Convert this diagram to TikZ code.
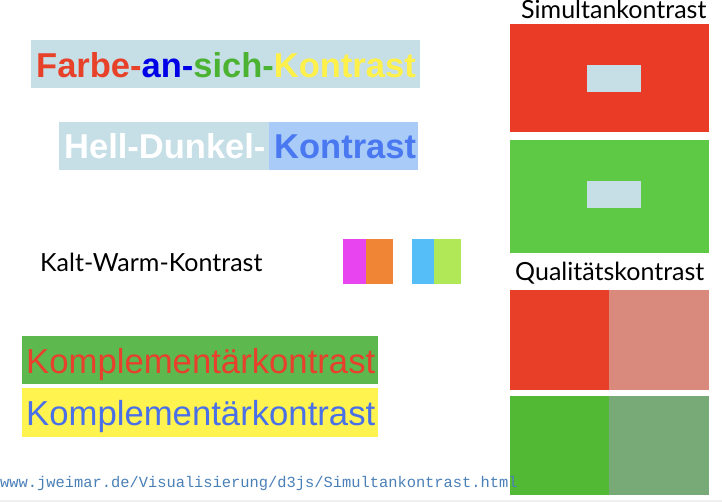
\documentclass[tikz,border=0pt]{standalone}
\usepackage{fontspec}
\setmainfont{Liberation Sans}
\newfontfamily\latofont{Lato}
\newfontfamily\urlfont{Liberation Mono}
\definecolor{paleblue}{HTML}{C6DFE6}
\definecolor{hdright}{HTML}{A8CBF8}
\definecolor{kblue}{HTML}{4A78F0}
\definecolor{fred}{HTML}{E8412A}
\definecolor{fblue}{HTML}{0000E6}
\definecolor{fgreen}{HTML}{4CB232}
\definecolor{fyellow}{HTML}{FFF04A}
\definecolor{cmag}{HTML}{E845F0}
\definecolor{corange}{HTML}{F08535}
\definecolor{csky}{HTML}{55BEF8}
\definecolor{clime}{HTML}{B0E858}
\definecolor{sred}{HTML}{E93B25}
\definecolor{sgreen}{HTML}{5DC944}
\definecolor{qred}{HTML}{E83F28}
\definecolor{qsalmon}{HTML}{D98A7C}
\definecolor{qgreen}{HTML}{52B935}
\definecolor{qgrey}{HTML}{78AA78}
\definecolor{kgreen}{HTML}{5DB84D}
\definecolor{kyellow}{HTML}{FFF350}
\definecolor{ktxtred}{HTML}{E8402A}
\definecolor{ktxtblue}{HTML}{4A70E8}
\definecolor{urlblue}{HTML}{4A80B8}
\definecolor{strip}{HTML}{F0F0F0}
\begin{document}
\begin{tikzpicture}[x=1pt,y=-1pt,
  big/.style={anchor=base west,inner sep=0pt,font=\fontsize{34.7}{40}\selectfont},
  bigbold/.style={big,font=\fontsize{34.5}{40}\selectfont\bfseries},
  lato/.style={anchor=base west,inner sep=0pt,font=\fontsize{25}{30}\selectfont\latofont}]
\useasboundingbox (0,0) rectangle (722,502);
\fill[white] (0,0) rectangle (722,502);
\fill[strip] (0,500) rectangle (722,502);

% Farbe-an-sich-Kontrast
\fill[paleblue] (31,40) rectangle (420,88);
\node[bigbold] (farbe) at (36,78) {\textcolor{fred}{Farbe-}\textcolor{fblue}{an-}\textcolor{fgreen}{sich-}\textcolor{fyellow}{Kontrast}};

% Hell-Dunkel-Kontrast
\fill[paleblue] (59,122) rectangle (269,170);
\fill[hdright] (269,122) rectangle (418,170);
\node[bigbold,text=white] (hell) at (64,159) {Hell-Dunkel-};
\node[bigbold,text=kblue] (hellk) at (274,159) {Kontrast};

% Kalt-Warm-Kontrast
\node[lato] (kalt) at (40,272) {Kalt-Warm-Kontrast};
\fill[cmag] (343,239) rectangle (366,284);
\fill[corange] (366,239) rectangle (393,284);
\fill[csky] (412,239) rectangle (434,284);
\fill[clime] (434,239) rectangle (461,284);

% Komplementaerkontrast
\fill[kgreen] (22,336) rectangle (378,384);
\fill[kyellow] (22,388) rectangle (378,437);
\node[big,text=ktxtred] (komp1) at (26,373) {Komplementärkontrast};
\node[big,text=ktxtblue] (komp2) at (26,425) {Komplementärkontrast};

% Simultankontrast
\node[lato] (simul) at (521,19) {Simultankontrast};
\fill[sred] (510,24) rectangle (709,132);
\fill[paleblue] (587,65) rectangle (641,92);
\fill[sgreen] (510,140) rectangle (709,253);
\fill[paleblue] (587,181) rectangle (641,208);

% Qualitaetskontrast
\node[lato] (quali) at (515,280) {Qualitätskontrast};
\fill[qred] (510,290) rectangle (609,390);
\fill[qsalmon] (609,290) rectangle (709,390);
\fill[qgreen] (510,396) rectangle (609,495);
\fill[qgrey] (609,396) rectangle (709,495);

% source URL
\node[anchor=base west,inner sep=0pt,text=urlblue,font=\fontsize{15.4}{18}\selectfont\urlfont] (url) at (0,487) {www.jweimar.de/Visualisierung/d3js/Simultankontrast.html};
\end{tikzpicture}
\end{document}
